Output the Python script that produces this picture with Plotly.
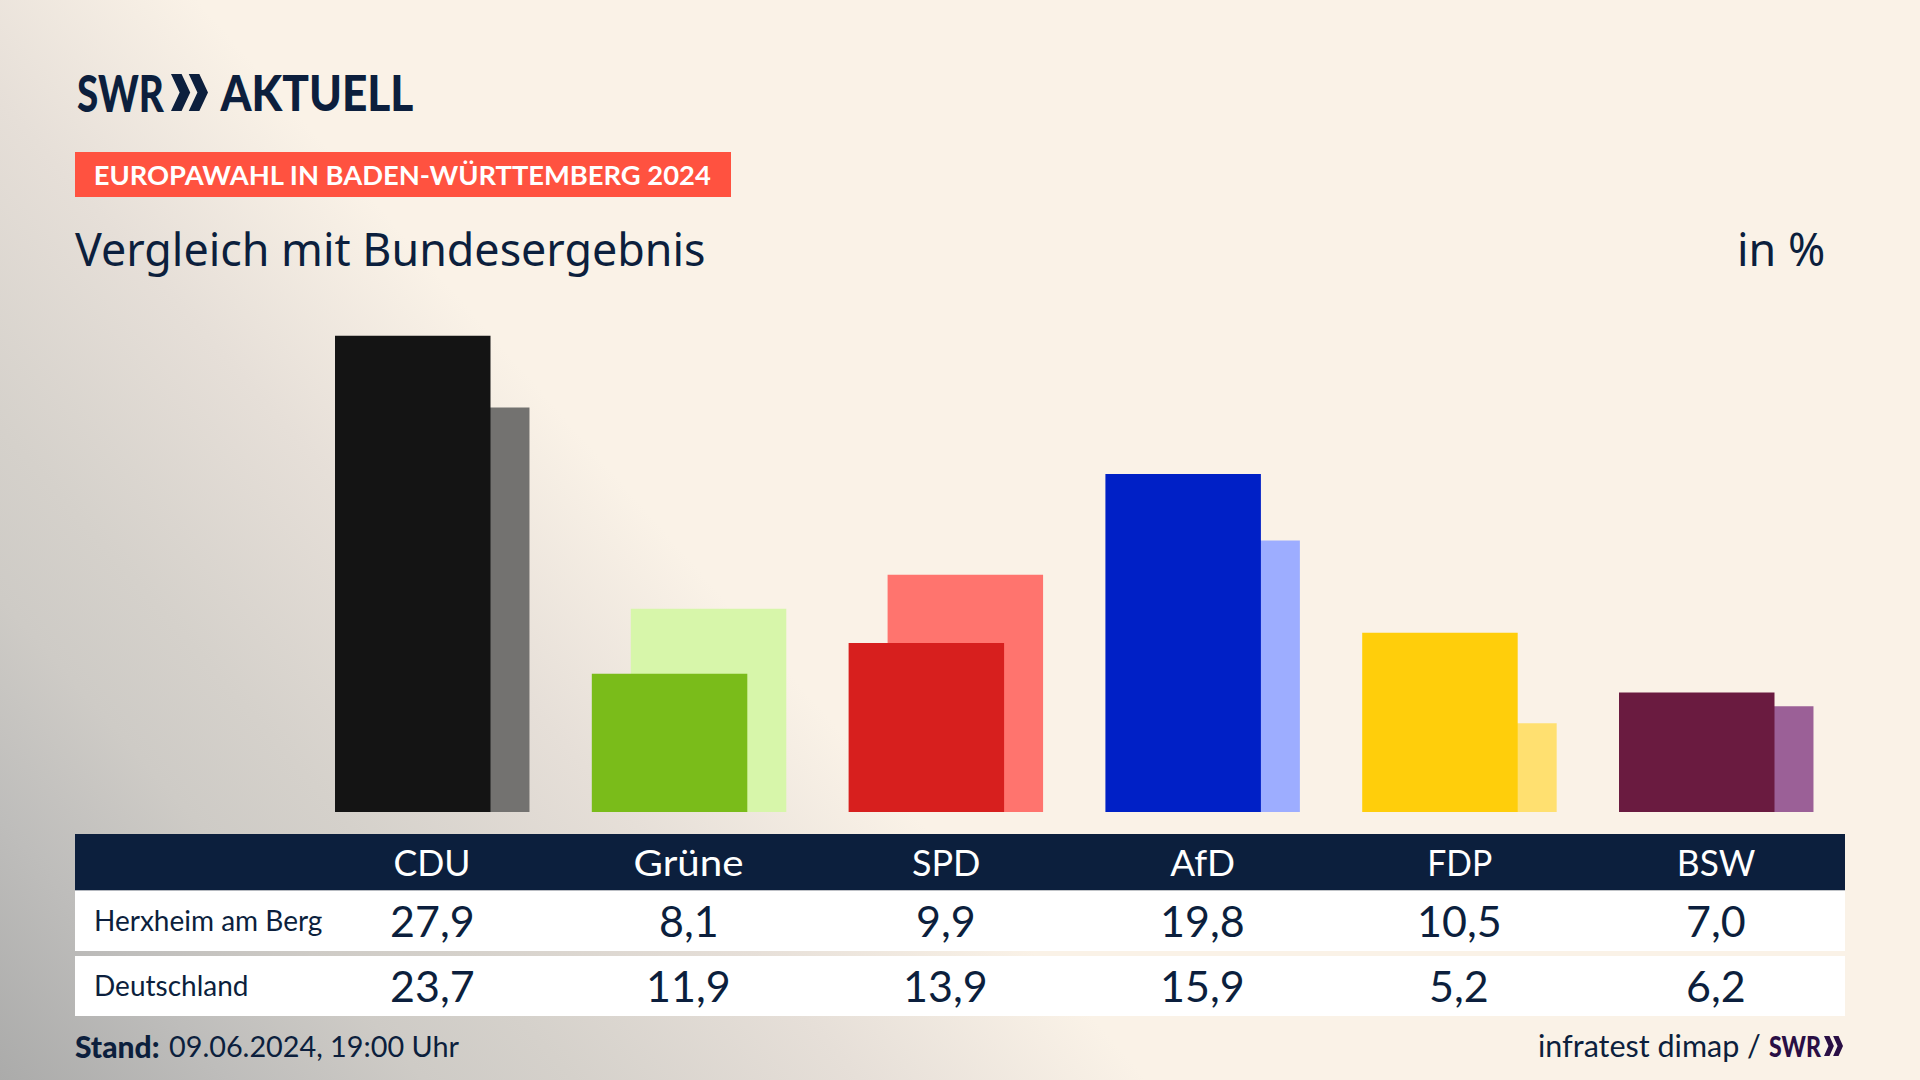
import base64
import json
import plotly.graph_objects as go

parties = ["CDU", "Grüne", "SPD", "AfD", "FDP", "BSW"]
region_name = "Herxheim am Berg"
national_name = "Deutschland"
region_values = [27.9, 8.1, 9.9, 19.8, 10.5, 7.0]
national_values = [23.7, 11.9, 13.9, 15.9, 5.2, 6.2]
region_colors = ["#141414", "#7ABC1A", "#D71F1E", "#0020C6", "#FFCE0B", "#6A1B40"]
national_colors = ["#737270", "#D7F6AA", "#FF746E", "#9DADFF", "#FFE070", "#9B6097"]
header_widths = [77, 110, 68.5, 65, 65, 78.5]

W, H = 1920, 1080
NAVY = "#0C1F3D"
FONT = "Lato"


def de(v):
    return f"{v:.1f}".replace(".", ",")


def fx(x):
    return x / W


def fy(y):
    return 1 - y / H


def rect(x0, y0, x1, y1, color):
    return dict(type="rect", xref="paper", yref="paper", x0=fx(x0), x1=fx(x1),
                y0=fy(y1), y1=fy(y0), fillcolor=color, line_width=0, layer="below")


def chevrons(x0, y0, w, h, color):
    out = []
    cw = w * 0.52
    bar = cw * 0.55
    for i in range(2):
        left = x0 + i * (w - cw)
        pts = [(left, y0), (left + bar, y0), (left + cw, y0 + h / 2), (left + bar, y0 + h),
               (left, y0 + h), (left + cw - bar, y0 + h / 2)]
        path = "M " + " L ".join(f"{fx(px):.5f},{fy(py):.5f}" for px, py in pts) + " Z"
        out.append(dict(type="path", xref="paper", yref="paper", path=path,
                        fillcolor=color, line_width=0, layer="below"))
    return out


fit = []


def label(text, x, y, size, color=NAVY, anchor="left", xref="paper", family=FONT, weight=400, width=None):
    fit.append(width)
    return dict(text=text, x=fx(x) if xref == "paper" else x, y=fy(y), xref=xref, yref="paper",
                xanchor=anchor, yanchor="middle", showarrow=False,
                font=dict(family=family, size=size, color=color, weight=weight))


svg = f"""<svg xmlns='http://www.w3.org/2000/svg' width='{W}' height='{H}' viewBox='0 0 {W} {H}'>
<defs><linearGradient id='g' gradientUnits='userSpaceOnUse' x1='0' y1='1080' x2='647' y2='511'>
<stop offset='0' stop-color='#ABABAA'/><stop offset='0.2' stop-color='#BEBDBB'/>
<stop offset='0.37' stop-color='#CECBC6'/><stop offset='0.5' stop-color='#D5D1CB'/>
<stop offset='0.75' stop-color='#E6DFD8'/>
<stop offset='1' stop-color='#FAF2E7'/></linearGradient></defs>
<rect width='{W}' height='{H}' fill='url(#g)'/></svg>"""
bg = "data:image/svg+xml;base64," + base64.b64encode(svg.encode()).decode()

fig = go.Figure()
fig.add_trace(go.Bar(x=parties, y=national_values, name=national_name, width=0.6055, offset=-0.2259,
                     marker=dict(color=national_colors, line_width=0), hoverinfo="x+y"))
fig.add_trace(go.Bar(x=parties, y=region_values, name=region_name, width=0.6055, offset=-0.3777,
                     marker=dict(color=region_colors, line_width=0), hoverinfo="x+y"))

shapes = [
    rect(75, 152, 731, 197, "#FF5240"),
    rect(75, 834, 1845, 890.5, NAVY),
    rect(75, 890.5, 1845, 951, "#FFFFFF"),
    rect(75, 956, 1845, 1016, "#FFFFFF"),
] + chevrons(171, 74, 37, 37, NAVY) + chevrons(1824, 1036, 19, 20, "#2A0F45")

ann = [
    label("SWR", 121, 92.5, 51, anchor="center", weight=900, width=87),
    label("AKTUELL", 316.5, 92.5, 49, anchor="center", weight=900, width=193),
    label("EUROPAWAHL IN BADEN-WÜRTTEMBERG 2024", 402.5, 175, 27.4, color="#FFFFFF",
          anchor="center", weight=700, width=617),
    label("Vergleich mit Bundesergebnis", 73, 248, 44.8, family="Noto Sans"),
    label("in %", 1827, 248, 44.8, anchor="right", family="Noto Sans"),
    label(region_name, 92, 920, 28),
    label(national_name, 92, 985, 28),
    label("Stand:", 73, 1045.5, 30, weight=900),
    label("09.06.2024, 19:00 Uhr", 167, 1045.5, 28.8),
    label("infratest dimap /", 1763, 1045, 30.5, anchor="right"),
    label("SWR", 1795, 1046, 27.5, color="#2A0F45", anchor="center", weight=900, width=52),
]
for p, a, b, w in zip(parties, region_values, national_values, header_widths):
    ann.append(label(p, p, 861, 37, color="#FFFFFF", anchor="center", xref="x", width=w))
    ann.append(label(de(a), p, 920, 43, anchor="center", xref="x"))
    ann.append(label(de(b), p, 985, 43, anchor="center", xref="x"))

fig.update_layout(
    width=W, height=H, margin=dict(l=0, r=0, t=0, b=0), autosize=False,
    paper_bgcolor="#FAF2E7", plot_bgcolor="rgba(0,0,0,0)",
    barmode="overlay", showlegend=False,
    xaxis=dict(domain=[fx(303.6), fx(1844.4)], range=[-0.5, 5.5], type="category",
               categoryorder="array", categoryarray=parties, showticklabels=False,
               showgrid=False, zeroline=False, showline=False, ticks=""),
    yaxis=dict(domain=[fy(812), fy(312)], range=[0, 500 / 17.07], showticklabels=False,
               showgrid=False, zeroline=False, showline=False, ticks=""),
    images=[dict(source=bg, xref="paper", yref="paper", x=0, y=1, sizex=1, sizey=1,
                 xanchor="left", yanchor="top", sizing="stretch", layer="below")],
    shapes=shapes, annotations=ann,
)

post = """
document.body.style.margin='0';document.documentElement.style.overflow='hidden';
var FIT=%s;
function applyFit(){
  document.querySelectorAll('g.annotation[data-index]').forEach(function(g){
    var w=FIT[+g.getAttribute('data-index')];
    if(!w) return;
    var t=g.querySelector('text.annotation-text');
    if(t){t.setAttribute('textLength',w);t.setAttribute('lengthAdjust','spacingAndGlyphs');}
  });
}
applyFit();setTimeout(applyFit,50);setTimeout(applyFit,300);
""" % json.dumps(fit)
fig.write_html("out.html", config={"displayModeBar": False}, post_script=post)
